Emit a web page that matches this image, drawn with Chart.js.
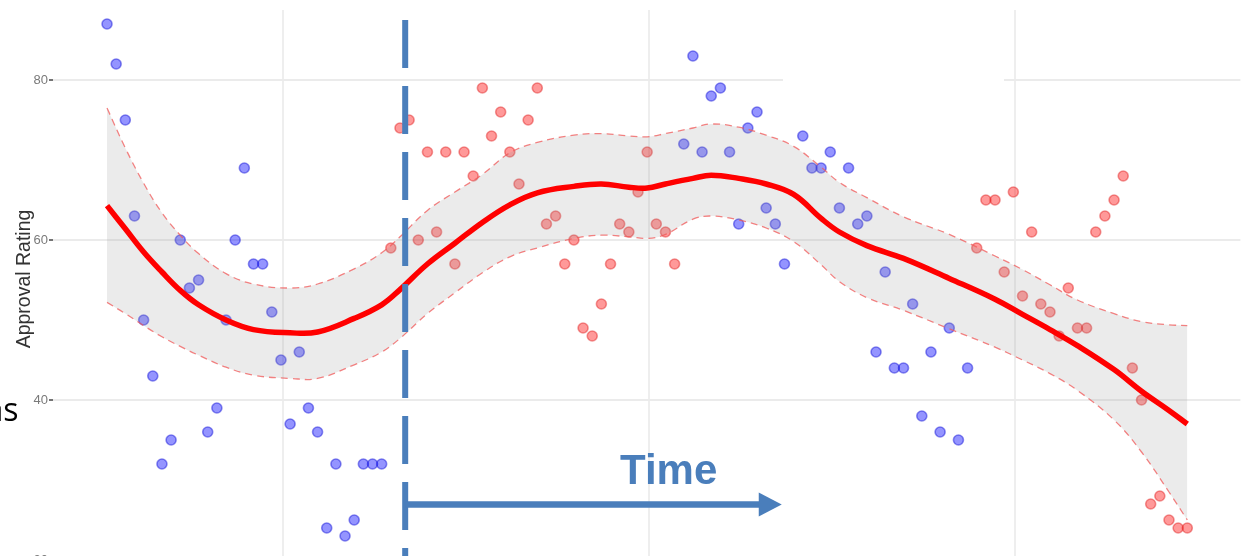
<!DOCTYPE html>
<html><head><meta charset="utf-8">
<script src="https://cdn.jsdelivr.net/npm/chart.js@4.4.1/dist/chart.umd.min.js"></script>
<style>
html,body{margin:0;padding:0;background:#fff;overflow:hidden;}
#wrap{position:relative;width:1247px;height:600px;}
</style></head><body>
<div id="wrap"><canvas id="c"></canvas></div>
<script>
// Poll number (x) and approval rating (y)
const blueX = [0,1,2,3,4,5,6,7,8,9,10,11,12,13,14,15,16,17,18,19,20,21,22,23,24,25,26,27,28,29,30,
  63,64,65,66,67,68,69,70,71,72,73,74,
  76,77,78,79,80,81,82,83,84,85,86,87,88,89,90,91,92,93,94];
const blueY = [87,82,75,63,50,43,32,35,60,54,55,36,39,50,60,69,57,57,51,45,37,46,39,36,24,32,23,25,32,32,32,
  72,83,71,78,79,71,62,74,76,64,62,57,
  73,69,69,71,64,69,62,63,46,56,44,44,52,38,46,36,49,35,44];
const redX = [31,32,33,34,35,36,37,38,39,40,41,42,43,44,45,46,47,48,49,50,51,52,53,54,55,56,57,58,59,60,61,62,
  95,96,97,98,99,100,101,102,103,104,105,106,107,108,109,110,111,112,113,114,115,116,117,118];
const redY = [59,74,75,60,71,61,71,57,71,68,79,73,76,71,67,75,79,62,63,57,60,49,48,52,57,62,61,66,71,62,61,57,
  59,65,65,56,66,53,61,52,51,48,54,49,49,61,63,65,68,44,40,27,28,25,24,24];

// Smoothed trend and its confidence band
const fitX   = [0,2,4,6,8,10,13,16,20,23,27,30,32,35,38,41,44,47,51,54,57,59,61,64,66,69,72,75,78,80,83,87,92,97,100,103,106,110,113,116,118];
const fitY   = [64.3,61.4,58.5,56.0,53.7,51.9,50.0,48.8,48.4,48.5,50.2,51.9,53.8,57.0,59.6,62.2,64.4,65.9,66.7,67.0,66.6,66.5,67.0,67.7,68.1,67.7,67.0,65.7,62.7,61.0,59.3,57.7,55.2,52.6,50.7,48.8,46.8,43.8,41.1,38.7,37.0];
const upperY = [76.5,71.5,67.1,63.4,60.6,58.3,55.8,54.5,54.0,54.5,56.4,58.4,60.4,63.7,66.0,68.2,70.9,72.2,73.1,73.3,73.0,72.9,73.3,74.0,74.5,74.1,73.1,71.7,69.1,67.2,65.3,62.9,60.7,58.0,56.3,54.4,52.5,50.8,49.8,49.4,49.3];
const lowerY = [52.2,50.8,49.3,47.9,46.7,45.6,44.1,43.1,42.7,42.7,44.4,46.0,47.7,50.8,53.4,55.9,57.9,59.0,60.2,60.6,60.4,60.2,60.7,62.6,63.0,62.5,61.5,59.8,56.9,54.8,52.8,51.2,48.9,46.6,45.0,43.3,41.2,37.5,33.5,28.5,25.0];

const yTicks = [20,40,60,80];
const xGrid = [19.2,59.2,99.2];
const changeX = 32.57;   // vertical dashed marker
const arrowEndX = 73.7;  // time arrow end
const arrowY = 26.95;

const pts = (xs, ys) => xs.map((x,i)=>({x, y: ys[i]}));

const overlay = {
  id: 'overlay',
  beforeDatasetsDraw(chart){
    const {ctx, scales:{x,y}} = chart;
    ctx.save();
    ctx.fillStyle = '#ffffff';
    const yy = y.getPixelForValue(80);
    ctx.fillRect(783, yy-4, 221, 8);
    ctx.restore();
  },
  afterDraw(chart){
    const {ctx, scales:{x,y}} = chart;
    ctx.save();
    ctx.save();
    ctx.translate(29.5, 279);
    ctx.rotate(-Math.PI/2);
    ctx.font = '19.5px "Liberation Sans", Arial, sans-serif';
    ctx.fillStyle = '#333333';
    ctx.textAlign = 'center';
    ctx.textBaseline = 'alphabetic';
    ctx.fillText('Approval Rating', 0, 0);
    ctx.restore();
    ctx.font = '32px "Open Sans", sans-serif';
    ctx.fillStyle = '#000';
    ctx.textAlign = 'right';
    ctx.textBaseline = 'alphabetic';
    ctx.fillText('ns', 18.5, 421);
    const blue = '#4a7ebb';
    const xm = x.getPixelForValue(changeX);
    ctx.strokeStyle = blue;
    ctx.lineWidth = 6;
    ctx.setLineDash([48,18]);
    ctx.beginPath(); ctx.moveTo(xm, 20); ctx.lineTo(xm, 600); ctx.stroke();
    ctx.setLineDash([]);
    const ya = y.getPixelForValue(arrowY);
    const xe = x.getPixelForValue(arrowEndX);
    ctx.lineWidth = 6.5;
    ctx.beginPath(); ctx.moveTo(xm, ya); ctx.lineTo(xe-22, ya); ctx.stroke();
    ctx.fillStyle = blue;
    ctx.beginPath();
    ctx.moveTo(xe-23, ya-12); ctx.lineTo(xe, ya); ctx.lineTo(xe-23, ya+12); ctx.closePath(); ctx.fill();
    ctx.font = 'bold 42px "Liberation Sans", Arial, sans-serif';
    ctx.textAlign = 'left';
    ctx.fillText('Time', 620, 484);
    ctx.restore();
  }
};

new Chart(document.getElementById('c'), {
  type: 'scatter',
  data: {
    datasets: [
      { type:'line', label:'fit', data: pts(fitX, fitY), borderColor:'#ff0000', borderWidth:5.5,
        pointRadius:0, tension:0.4, fill:false, order:0 },
      { type:'line', label:'lower', data: pts(fitX, lowerY), borderColor:'rgba(240,90,90,0.75)', borderWidth:1.3,
        borderDash:[7,5], pointRadius:0, tension:0.4, fill:false, order:1 },
      { type:'line', label:'upper', data: pts(fitX, upperY), borderColor:'rgba(240,90,90,0.75)', borderWidth:1.3,
        borderDash:[7,5], pointRadius:0, tension:0.4,
        fill:{target:1}, backgroundColor:'rgba(153,153,153,0.2)', order:2 },
      { label:'Democrat', data: pts(blueX, blueY), backgroundColor:'rgba(0,0,255,0.42)',
        borderColor:'rgba(30,30,220,0.5)', borderWidth:1.6, pointRadius:5, order:3 },
      { label:'Republican', data: pts(redX, redY), backgroundColor:'rgba(255,0,0,0.4)',
        borderColor:'rgba(225,30,30,0.45)', borderWidth:1.6, pointRadius:5, order:3 }
    ]
  },
  options: {
    responsive:true, maintainAspectRatio:false, animation:false,
    layout:{padding:{top:10,right:3,bottom:10,left:0}},
    plugins:{legend:{display:false}, tooltip:{enabled:false}},
    scales:{
      x:{ type:'linear', min:-5.9, max:123.8,
        afterBuildTicks: s => { s.ticks = xGrid.map(v=>({value:v})); },
        afterFit: s => { s.height = 0; },
        ticks:{display:false}, border:{display:false},
        grid:{color:'#eeeeee', lineWidth:2, drawTicks:false} },
      y:{ min:16.25, max:88.75,
        afterBuildTicks: s => { s.ticks = yTicks.map(v=>({value:v})); },
        afterFit: s => { s.width = 53; },
        border:{display:false},
        ticks:{color:'#7a7a7a', padding:1, font:{family:'"Liberation Sans", Arial, sans-serif', size:13}},
        grid:{color:'#ebebeb', lineWidth:2, tickLength:4, tickColor:'#444', tickWidth:1.5} }
    }
  },
  plugins:[overlay]
});
</script>
</body></html>
